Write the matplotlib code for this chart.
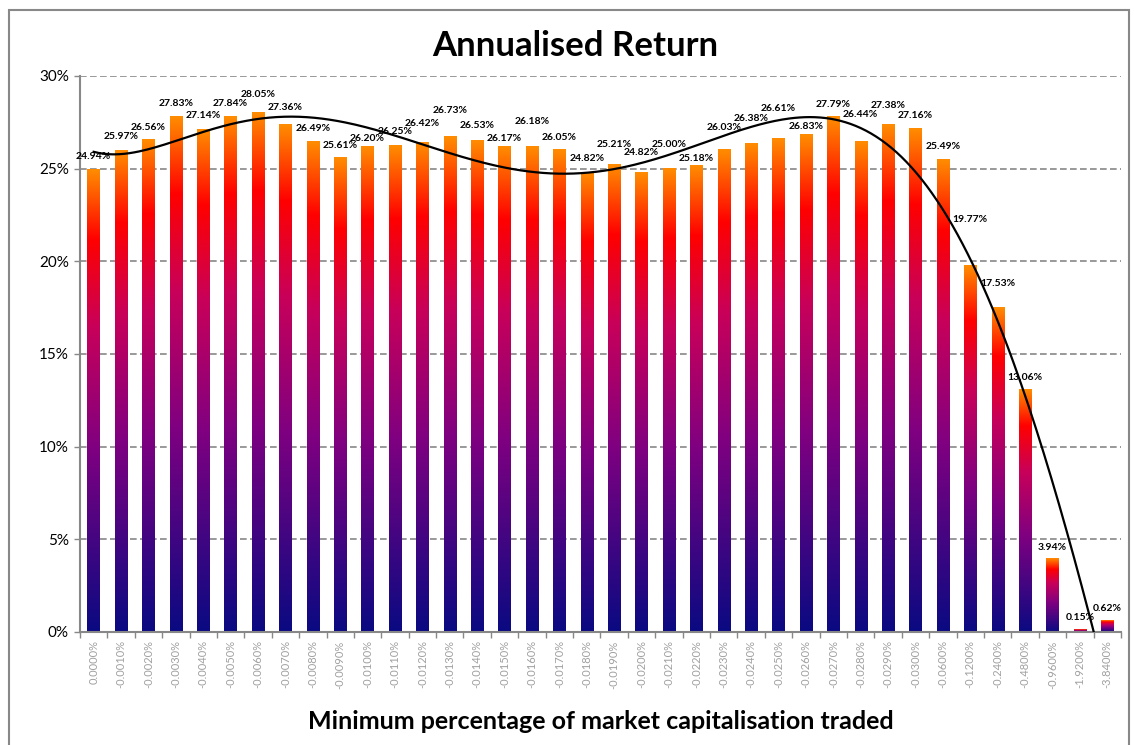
import matplotlib
matplotlib.use("Agg")
import matplotlib.pyplot as plt
import numpy as np
from matplotlib.colors import LinearSegmentedColormap
from matplotlib.patches import Rectangle
from matplotlib.ticker import FuncFormatter, FixedLocator

categories = ["0.0000%", "-0.0010%", "-0.0020%", "-0.0030%", "-0.0040%", "-0.0050%",
              "-0.0060%", "-0.0070%", "-0.0080%", "-0.0090%", "-0.0100%", "-0.0110%",
              "-0.0120%", "-0.0130%", "-0.0140%", "-0.0150%", "-0.0160%", "-0.0170%",
              "-0.0180%", "-0.0190%", "-0.0200%", "-0.0210%", "-0.0220%", "-0.0230%",
              "-0.0240%", "-0.0250%", "-0.0260%", "-0.0270%", "-0.0280%", "-0.0290%",
              "-0.0300%", "-0.0600%", "-0.1200%", "-0.2400%", "-0.4800%", "-0.9600%",
              "-1.9200%", "-3.8400%"]
returns = [24.94, 25.97, 26.56, 27.83, 27.14, 27.84, 28.05, 27.36, 26.49, 25.61,
           26.20, 26.25, 26.42, 26.73, 26.53, 26.17, 26.18, 26.05, 24.82, 25.21,
           24.82, 25.00, 25.18, 26.03, 26.38, 26.61, 26.83, 27.79, 26.44, 27.38,
           27.16, 25.49, 19.77, 17.53, 13.06, 3.94, 0.15, 0.62]

# how far (pixels) each data label sits above its bar, staggered like the original
label_lift = [13, 14, 12, 13, 13, 13, 18, 17, 13, 12, 8, 14, 19, 26, 15, 8, 25, 12,
              13, 20, 19, 24, 7, 22, 25, 30, 8, 12, 27, 19, 13, 13, 46, 24, 12, 11,
              12, 12]

plt.rcParams['font.family'] = ['Lato', 'DejaVu Sans']

fig = plt.figure(figsize=(11.34, 7.45), dpi=100)
ax = fig.add_axes([0.0705, 0.1517, 0.918, 0.7463])

x = np.arange(len(categories))
vals = np.array(returns) / 100

cmap = LinearSegmentedColormap.from_list(
    "excel", [(0.0, "#0a0a82"), (0.40, "#800080"), (0.66, "#c8005a"),
              (0.85, "#ff0000"), (1.0, "#ff8c00")])
grad = np.linspace(0, 1, 256).reshape(-1, 1)

bars = ax.bar(x, vals, width=0.45, color="none", edgecolor="none")
for b, lift in zip(bars, label_lift):
    x0, y0, w, h = b.get_x(), b.get_y(), b.get_width(), b.get_height()
    ax.imshow(grad, extent=[x0, x0 + w, y0, y0 + h], origin="lower",
              aspect="auto", cmap=cmap, zorder=2, interpolation="bilinear")
    ax.annotate(f"{h*100:.2f}%", (x0 + w / 2, y0 + h), xytext=(0, lift * 0.72),
                textcoords="offset points", ha="center", va="center",
                fontsize=7.5, fontweight="bold", zorder=5)

# polynomial trendline (order 6), as in the spreadsheet
coef = np.polyfit(x + 1, vals, 6)
xs = np.linspace(0, len(x) - 1, 400)
ax.plot(xs, np.polyval(coef, xs + 1), color="black", lw=1.6, zorder=4)

ax.set_xlim(-0.5, len(x) - 0.5)
ax.set_ylim(0, 0.30)
ax.set_yticks(np.arange(0, 0.301, 0.05))
ax.yaxis.set_major_formatter(FuncFormatter(lambda v, p: f"{v*100:.0f}%"))
ax.yaxis.grid(True, color="#888888", ls=(0, (4, 2)), lw=1.2)
ax.set_axisbelow(True)

ax.set_xticks(x)
ax.set_xticklabels(categories, rotation=90, fontsize=8, color="#a0a0a0")
ax.tick_params(axis="x", which="major", length=0, pad=6)
ax.xaxis.set_minor_locator(FixedLocator(np.arange(-0.5, len(x), 1)))
ax.tick_params(axis="x", which="minor", length=4, color="#888888", width=1)
ax.tick_params(axis="y", labelsize=11, length=4, color="#888888", width=1, pad=4)

for s in ["top", "right"]:
    ax.spines[s].set_visible(False)
for s in ["left", "bottom"]:
    ax.spines[s].set_color("#888888")
    ax.spines[s].set_linewidth(1.5)

fig.text(0.507, 0.938, "Annualised Return", ha="center", va="center",
         fontsize=25, fontweight="bold")
fig.text(0.53, 0.031, "Minimum percentage of market capitalisation traded",
         ha="center", va="center", fontsize=18, fontweight="bold")

fig.patches.append(Rectangle((9 / 1134, -0.01), 1120 / 1134, 0.997,
                             transform=fig.transFigure, fill=False,
                             edgecolor="#888888", lw=1.5))

fig.savefig("out.png", dpi=100)
